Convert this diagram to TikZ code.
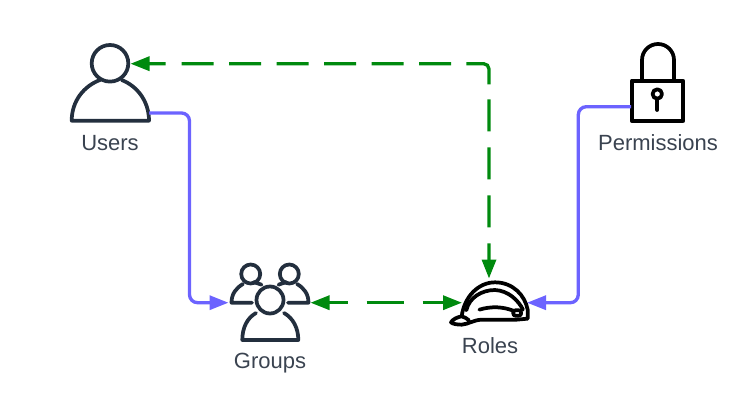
\documentclass[tikz,border=0pt]{standalone}
\usepackage{fontspec}
\setmainfont{Liberation Sans}
\usetikzlibrary{arrows.meta}
\definecolor{navy}{HTML}{232F3E}
\definecolor{lbl}{HTML}{3A4350}
\definecolor{vio}{HTML}{6C63FF}
\definecolor{grn}{HTML}{008A0E}
\tikzset{
  icon/.style={draw=none,inner sep=0pt,outer sep=0pt},
  lab/.style={text=lbl,font=\fontsize{16.5}{18}\selectfont,inner sep=0pt},
  navyline/.style={draw=navy,line width=2.8pt,line join=round,line cap=round},
  blkline/.style={draw=black,line width=2.8pt,line join=round,line cap=round},
  bluelink/.style={draw=vio,line width=2.5pt,rounded corners=6pt,-{Triangle[length=14.25pt,width=10.5pt]}},
  greenlink/.style={draw=grn,line width=2.5pt,rounded corners=4pt,
    {Triangle[length=14.25pt,width=10.5pt]}-{Triangle[length=14.25pt,width=10.5pt]}},
}
\begin{document}
\begin{tikzpicture}[x=0.75pt,y=-0.75pt]
\useasboundingbox (0,0) rectangle (756,413);
% icon boxes (anchors for the connectors)
\node[icon,minimum width=58.5pt,minimum height=58.5pt] (users) at (110,83) {};
\node[icon,minimum width=61.5pt,minimum height=58.5pt] (groups) at (269.5,302.7) {};
\node[icon,minimum width=48.75pt,minimum height=33pt] (roles) at (494.5,302.7) {};
\node[icon,minimum width=39.75pt,minimum height=58.5pt] (perm) at (657.5,83) {};
\coordinate (usersHead) at (130.5,63.7);
\coordinate (rolesTop) at (489,278.5);
\coordinate (bendA) at (189.5,200);
\coordinate (bendB) at (578.3,200);
% Users
\draw[navyline] (110,63.3) circle (18.3);
\draw[navyline] (100,80) .. controls (84,86) and (71.7,101) .. (71.7,120.7) -- (149,120.7)
  .. controls (149,101) and (137,86) .. (121.7,80);
% Groups
\draw[navyline] (250.7,274) circle (9.5);
\draw[navyline] (289.3,274) circle (9.5);
\draw[navyline] (243,284) .. controls (236,288) and (231.5,294) .. (231.5,302.7) -- (252,302.7);
\draw[navyline] (297,284) .. controls (304,288) and (308.5,294) .. (308.5,302.7) -- (288,302.7);
\draw[navyline] (253.5,282) -- (261.5,284.7);
\draw[navyline] (286.5,282) -- (278.5,284.7);
\draw[navyline] (270,300) circle (13.5);
\draw[navyline] (256,313) .. controls (247,318) and (242.3,328) .. (242.3,340) -- (298.3,340)
  .. controls (298.3,328) and (293,318) .. (284,313);
% Roles (hard hat)
\begin{scope}[shift={(445,275)},x=.25pt,y=-.25pt]
\draw[blkline] (50,124) .. controls (58,65) and (100,22) .. (150,22)
  .. controls (205,22) and (240,62) .. (248,104) -- (248,131) -- (215,134) -- (110,134)
  .. controls (85,135) and (72,147) .. (50,149) .. controls (38,149) and (22,147) .. (18,142)
  .. controls (22,133) and (38,126) .. (50,124) .. controls (58,126) and (65,130) .. (72,136);
\draw[blkline] (64,106) .. controls (72,68) and (110,45) .. (150,45)
  .. controls (190,47) and (220,76) .. (234,104);
\draw[blkline] (103,104) .. controls (140,93) and (175,95) .. (207,108);
\draw[blkline,rounded corners=1.5pt] (205,106) rectangle (228,122);
\end{scope}
% Permissions (lock)
\draw[blkline] (631.7,80.7) rectangle (683.3,120.7);
\draw[blkline] (642,80.7) -- (642,60) arc[start angle=180,end angle=360,radius=16] -- (674,80.7);
\draw[blkline] (657.3,94) circle (4.7);
\draw[blkline] (657.3,99) -- (657.3,110);
% Labels
\node[lab] (usersL) at (110,143) {Users};
\node[lab] (groupsL) at (270,363.5) {Groups};
\node[lab] (rolesL) at (490,346) {Roles};
\node[lab] (permL) at (658,143) {Permissions};
% Connectors
\draw[bluelink] ([yshift=-22.5pt]users.east) -| (bendA) |- (groups.west);
\draw[bluelink] ([yshift=-17.8pt]perm.west) -| (bendB) |- (roles.east);
\draw[greenlink,dash pattern=on 12.75pt off 12pt on 24pt off 11.6pt on 24pt off 11.6pt on 24pt off 11.6pt on 24pt off 11.6pt on 24pt off 11.6pt on 24pt off 11.6pt on 30.5pt off 11.25pt on 24pt off 12pt on 24pt off 12pt on 24pt off 12pt on 75pt off 10pt]
  (usersHead) -| (rolesTop);
\draw[greenlink,dash pattern=on 14.25pt off 14.25pt on 27.75pt off 14.25pt on 30pt off 10pt]
  (groups.east) -- (roles.west);
\end{tikzpicture}
\end{document}
